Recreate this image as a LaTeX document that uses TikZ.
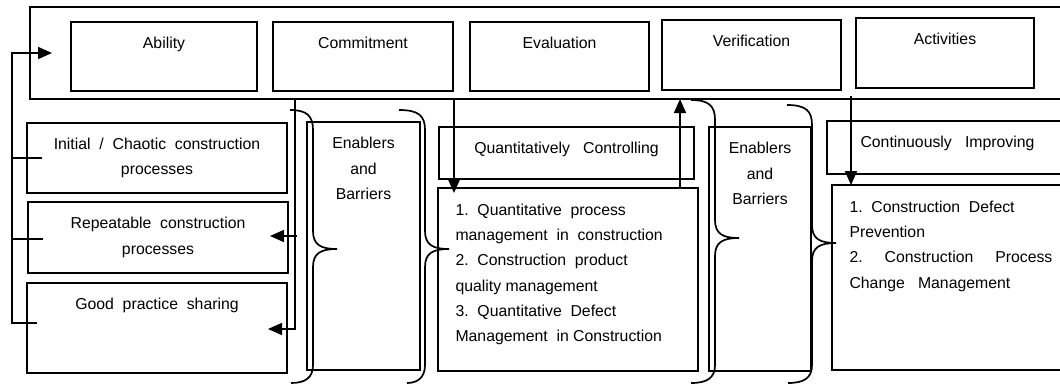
\documentclass[tikz,border=0pt]{standalone}
\usepackage{fontspec}
\setmainfont{Liberation Sans}
\usetikzlibrary{arrows.meta,calc}

\begin{document}
\begin{tikzpicture}[x=1pt, y=-1pt,
  font=\fontsize{15.8}{25.2}\selectfont,
  box/.style={draw, line width=2pt, anchor=north west, inner sep=0pt,
    outer sep=0pt, align=center},
  ttl/.style={label={[anchor=north,yshift=-12pt,align=center]north:#1}},
  lst/.style={label={[anchor=north west,xshift=14pt,yshift=-12.5pt,align=left]north west:#1}},
  wire/.style={line width=1.7pt},
  arr/.style={wire, -{Triangle[length=14pt,width=12pt]}}]
\useasboundingbox (0,0) rectangle (1060,386);
\clip (0,0) rectangle (1060,386);

% top row
\node[box, minimum width=1045pt, minimum height=92pt] (frame) at (30,7) {};
\node[box, ttl=Ability, minimum width=186pt, minimum height=69pt] (ability) at (71,22) {};
\node[box, ttl=Commitment, minimum width=180pt, minimum height=69pt] (commit) at (273,22) {};
\node[box, ttl=Evaluation, minimum width=179pt, minimum height=69pt] (eval) at (470,22) {};
\node[box, ttl=Verification, minimum width=179pt, minimum height=70pt] (verif) at (662,20) {};
\node[box, ttl=Activities, minimum width=178pt, minimum height=70pt] (activ) at (856,18) {};

% left column
\node[box, minimum width=260pt, minimum height=70pt] (chaotic) at (27,123)
  {Initial~~/~~Chaotic~~construction\\processes};
\node[box, minimum width=260pt, minimum height=71pt] (repeatable) at (28,202)
  {Repeatable~~construction\\processes};
\node[box, ttl=Good~~practice~~sharing, minimum width=260pt, minimum height=90pt] (goodpractice) at (27,283) {};

% enablers
\node[box, ttl=Enablers\\and\\Barriers, minimum width=113pt, minimum height=248pt] (enab1) at (307,122) {};
\node[box, ttl=Enablers\\and\\Barriers, minimum width=102pt, minimum height=244pt] (enab2) at (709,127) {};

% quantitative level
\node[box, ttl=Quantitatively~~~Controlling, minimum width=255pt, minimum height=52pt] (qc) at (439,127) {};
\node[box, lst={1.~~Quantitative~~process\\management~~in~~construction\\2.~~Construction~~product\\quality~management\\3.~~Quantitative~~Defect\\Management~~in~Construction},
  minimum width=260pt, minimum height=183pt] (qlist) at (438,188) {};

% optimizing level
\node[box, label={[anchor=north west,xshift=30pt,yshift=-12pt]north west:Continuously~~~Improving},
  minimum width=300pt, minimum height=53pt] (ci) at (827,121) {};
\node[box, lst={1.~~Construction~~Defect\\Prevention\\2.~~~~~Construction~~~~~Process\\Change~~~Management},
  minimum width=300pt, minimum height=185pt] (clist) at (832,185) {};

% braces
\foreach \xs/\xv/\ty/\yt/\xe in {290/313/249/110/291, 399/425/249/110/407,
    691/715/238/100/691, 787/812/243/105/788}
  \draw[wire] (\xs,\yt) .. controls ({\xv-6},\yt) and (\xv,{\yt+6}) .. (\xv,{\yt+20})
    -- (\xv,{\ty-18}) .. controls (\xv,{\ty-4}) and ({\xv+8},\ty) .. ({\xv+24},\ty)
    .. controls ({\xv+8},\ty) and (\xv,{\ty+4}) .. (\xv,{\ty+18})
    -- (\xv,365) .. controls (\xv,378) and ({\xv-8},383) .. (\xe,383);

% feedback loop on the left
\coordinate (fb) at ($(frame.west)+(-18,0)$);
\draw[arr] ($(goodpractice.west)+(10,-5)$) -| (fb) -- ($(frame.west)+(22,0)$);
\draw[wire] (fb |- chaotic.west) -- ($(chaotic.west)+(15,0)$);
\draw[wire] ($(fb |- repeatable.west)+(0,1.5)$) -- ($(repeatable.west)+(15,1.5)$);

% commitment feeds down
\coordinate (cm) at ($(chaotic.east |- frame.south)+(8,0)$);
\draw[arr] (cm) |- ($(goodpractice.east)+(-19,1)$);
\draw[arr] ($(repeatable.east)+(9,-1.5)$) -- ($(repeatable.east)+(-18,-1.5)$);

% into and out of the quantitative level
\coordinate (qin) at ($(qlist.north west)+(16,5)$);
\draw[arr] (qin |- frame.south) -- (qin);
\coordinate (qout) at ($(qlist.north east)+(-18,0)$);
\draw[arr] (qout) -- (qout |- frame.south);

% into the optimizing level
\coordinate (cin) at ($(clist.north west)+(19,0)$);
\draw[arr] ($(cin |- frame.south)+(0,-3)$) -- (cin);
\end{tikzpicture}
\end{document}
